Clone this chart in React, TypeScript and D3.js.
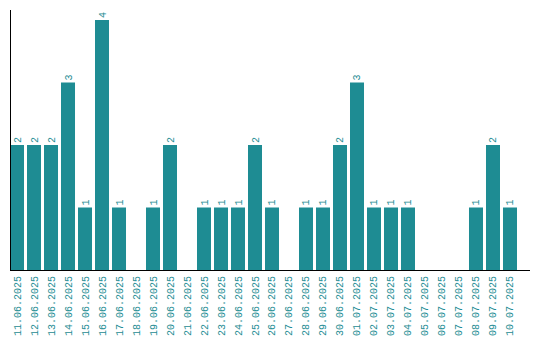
import React, { useEffect, useRef } from 'react';
import * as d3 from 'd3';

const dates = [
  '11.06.2025', '12.06.2025', '13.06.2025', '14.06.2025', '15.06.2025',
  '16.06.2025', '17.06.2025', '18.06.2025', '19.06.2025', '20.06.2025',
  '21.06.2025', '22.06.2025', '23.06.2025', '24.06.2025', '25.06.2025',
  '26.06.2025', '27.06.2025', '28.06.2025', '29.06.2025', '30.06.2025',
  '01.07.2025', '02.07.2025', '03.07.2025', '04.07.2025', '05.07.2025',
  '06.07.2025', '07.07.2025', '08.07.2025', '09.07.2025', '10.07.2025',
];
const counts = [
  2, 2, 2, 3, 1, 4, 1, 0, 1, 2,
  0, 1, 1, 1, 2, 1, 0, 1, 1, 2,
  3, 1, 1, 1, 0, 0, 0, 1, 2, 1,
];

const teal = '#1e8c93';
const font = '"Liberation Mono", monospace';

const App: React.FC = () => {
  const svgRef = useRef<SVGSVGElement | null>(null);

  useEffect(() => {
    document.body.style.margin = '0';
    if (!svgRef.current) return;
    const svg = d3.select(svgRef.current);
    svg.selectAll('*').remove();

    const width = 540;
    const height = 340;
    const left = 10;
    const base = 270;

    const x = d3.scaleBand<string>()
      .domain(dates)
      .range([left, 517])
      .paddingInner(0.176)
      .paddingOuter(0);

    const y = d3.scaleLinear().domain([0, 4]).range([base, 20]);

    svg.attr('width', width).attr('height', height);

    const data = dates.map((d, i) => ({ date: d, value: counts[i] }));

    // bars
    svg.append('g')
      .selectAll('rect')
      .data(data.filter(d => d.value > 0))
      .join('rect')
        .attr('x', d => x(d.date) as number)
        .attr('y', d => y(d.value))
        .attr('width', x.bandwidth())
        .attr('height', d => base - y(d.value))
        .attr('fill', teal);

    // value labels
    svg.append('g')
      .selectAll('text')
      .data(data.filter(d => d.value > 0))
      .join('text')
        .attr('transform', d => `translate(${(x(d.date) as number) + x.bandwidth() / 2},${y(d.value) - 2}) rotate(-90)`)
        .attr('dy', '0.35em')
        .attr('text-anchor', 'start')
        .attr('font-family', font)
        .attr('font-size', 10)
        .attr('fill', teal)
        .text(d => String(d.value));

    // x tick labels
    svg.append('g')
      .selectAll('text')
      .data(dates)
      .join('text')
        .attr('transform', d => `translate(${(x(d) as number) + x.bandwidth() / 2},${base + 6}) rotate(-90)`)
        .attr('dy', '0.35em')
        .attr('text-anchor', 'end')
        .attr('font-family', font)
        .attr('font-size', 10)
        .attr('fill', teal)
        .text(d => d);

    // axes
    svg.append('line')
      .attr('x1', left + 0.5).attr('x2', left + 0.5)
      .attr('y1', 10).attr('y2', base)
      .attr('stroke', '#000');
    svg.append('line')
      .attr('x1', left).attr('x2', 530)
      .attr('y1', base + 0.5).attr('y2', base + 0.5)
      .attr('stroke', '#000');
  }, []);

  return <svg ref={svgRef} style={{ display: 'block' }}></svg>;
};

export default App;
